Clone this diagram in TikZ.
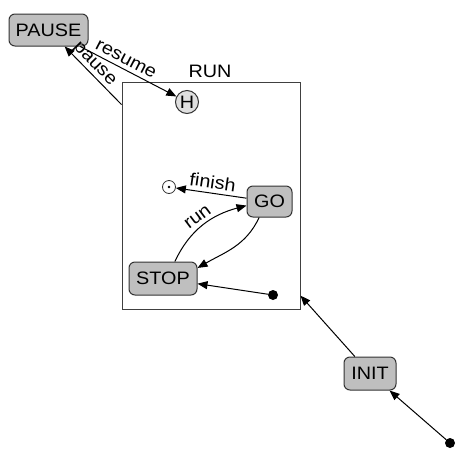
\documentclass[tikz,border=0pt]{standalone}
\usepackage{fontspec}
\setmainfont{Liberation Sans}[FakeStretch=1.1]
\usetikzlibrary{arrows.meta}
\begin{document}
\begin{tikzpicture}[x=1pt,y=1pt,
  font=\fontsize{18}{21}\selectfont,
  state/.style={draw=black!80, fill=gray!50, rounded corners=6pt, line width=1pt, inner sep=0pt},
  dotnode/.style={circle, fill=black, minimum size=10pt, inner sep=0pt},
  arr/.style={-{Triangle[length=10pt,width=8pt]}, line width=1pt},
  lab/.style={sloped, above, inner sep=1pt}]
\useasboundingbox (0,0) rectangle (467,-459);
\node[state, minimum width=79pt, minimum height=32pt] (pause) at (48.5,-30) {PAUSE};
\node[draw=black!75, line width=1pt, minimum width=178pt, minimum height=227pt, inner sep=0pt] (run) at (211,-195.5) {};
\node (runlab) at (210,-71.5) {RUN};
\node[circle, draw=black!80, line width=1pt, fill=gray!25, minimum size=23pt, inner sep=0pt] (h) at (187,-102) {H};
\node[circle, draw=black!80, line width=0.8pt, fill=white, minimum size=13pt, inner sep=0pt] (fin) at (169,-187) {};
\fill (fin.center) circle (1.3pt);
\node[state, minimum width=45pt, minimum height=31pt] (go) at (269.5,-201.5) {GO};
\node[state, minimum width=68pt, minimum height=33pt] (stop) at (163,-278.5) {STOP};
\node[dotnode] (d1) at (273,-295) {};
\node[state, minimum width=52pt, minimum height=33pt] (init) at (370,-373.5) {INIT};
\node[dotnode] (d0) at (450,-443) {};
\draw[arr] (d0) -- (init);
\draw[arr] (init) -- (run);
\draw[arr] (run) -- node[lab, pos=0.59] {pause} (pause);
\draw[arr] (pause) -- node[lab, pos=0.43, inner sep=4pt] {resume} (h);
\draw[arr] (go) -- node[lab, pos=0.5, inner sep=4pt] {finish} (fin);
\draw[arr] (stop.55) to[out=65,in=195] node[lab, pos=0.5, inner sep=4pt] {run} (go.190);
\draw[arr] (go.237) to[out=245,in=30] (stop.17);
\draw[arr] (d1) -- (stop);
\end{tikzpicture}
\end{document}
